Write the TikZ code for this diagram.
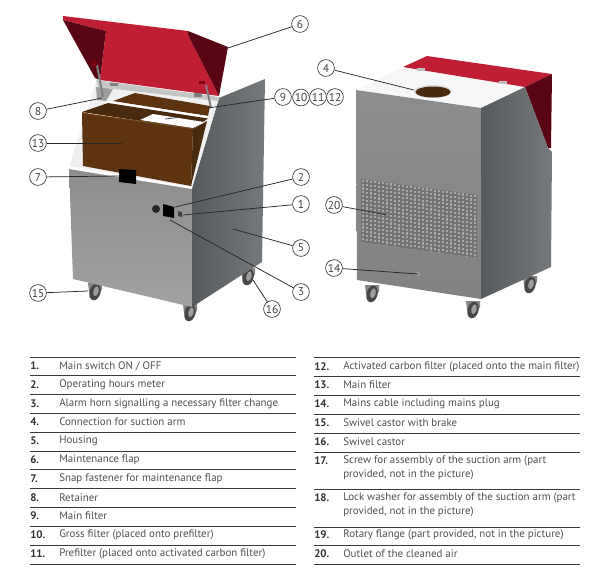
\documentclass[tikz,border=0pt]{standalone}
\usepackage{fontspec}
\setmainfont{PT Sans}
\definecolor{flapred}{HTML}{C01F33}
\definecolor{flapdark}{HTML}{5A0514}
\definecolor{brownA}{HTML}{5E3410}
\definecolor{brownB}{HTML}{4A2A0C}
\definecolor{brownC}{HTML}{6E4015}
\definecolor{faceG}{HTML}{989A9A}
\definecolor{sideG}{HTML}{5E6264}
\definecolor{rimG}{HTML}{C4C6C6}
\definecolor{txt}{HTML}{505050}
\definecolor{rulec}{HTML}{3A3A3A}
\tikzset{
  call/.style={circle,draw=black!80,line width=0.5pt,fill=white,minimum size=12.6pt,inner sep=0pt,font=\fontsize{8.6}{8.6}\selectfont,text=black!75},
  lead/.style={draw=black!85,line width=0.55pt},
  rowrule/.style={draw=rulec,line width=0.75pt},
  numt/.style={anchor=west,inner sep=0pt,font=\fontsize{8.2}{9}\selectfont\bfseries,text=black!80},
  item/.style={anchor=west,inner sep=0pt,font=\fontsize{8.2}{9}\selectfont,text=txt},
  wheelo/.style={fill=black!72},
  wheeli/.style={fill=black!38},
  fork/.style={fill=black!48}
}
\newcommand{\castor}[2]{%
  \fill[fork] (#1-7,#2-9) -- (#1+7,#2-9) -- (#1+7,#2-3) -- (#1+2,#2+6) -- (#1-6,#2) -- cycle;
  \fill[wheelo,rotate around={-15:(#1,#2)}] (#1,#2) ellipse (5.5 and 8.5);
  \fill[wheeli,rotate around={-15:(#1,#2)}] (#1+0.8,#2-1) ellipse (2.6 and 5);
}
\begin{document}
\begin{tikzpicture}[x=0.75pt,y=-0.75pt]
\useasboundingbox (0,0) rectangle (610,572);
\fill[white] (0,0) rectangle (610,572);

% ---------- left machine ----------
\castor{95}{292}
\castor{190}{313}
\castor{248}{277}
% flap
\fill[flapred] (63,16) -- (188,31) -- (188,35) -- (219,96) -- (100,80) -- (106,31) -- (63,20) -- cycle;
\fill[flapdark] (63,20) -- (106,31) -- (100,80) -- (95,78) -- cycle;
\fill[flapdark] (188,31) -- (228,47) -- (219,96) -- (188,35) -- cycle;
% housing side
\shade[left color=sideG!92!black,right color=sideG!85!white] (219,98) -- (265,79) -- (262,262) -- (192,307) -- (192,188) -- cycle;
% white rim
\fill[white!94!black] (69,167) -- (192,188) -- (219,98) -- (96,82) -- cycle;
\fill[rimG] (96,80) -- (219,97) -- (218,101) -- (98,87) -- cycle;
\fill[rimG!80!black] (96,87) -- (113,89) -- (106,101) -- (97,100) -- cycle;
% upper filter
\fill[brownA] (135,93) -- (210,106) -- (208,116) -- (113,101) -- cycle;
\fill[white] (106,100.5) -- (208,116) -- (208,118.5) -- (106,103) -- cycle;
% main filter
\fill[brownA] (82,113) -- (193,129) -- (191,186) -- (83,166) -- cycle;
\fill[brownB] (193,129) -- (207,121) -- (191,186) -- cycle;
\fill[brownB] (82,112) -- (108,103) -- (208,118.5) -- (193,129) -- cycle;
\fill[brownC] (82,112) -- (90,114) -- (193,128) -- (193,129) -- (82,113.5) -- cycle;
\fill[white] (140,120) -- (153,114) -- (204,122) -- (193,128) -- cycle;
\draw[black!70,line width=0.6pt] (165,119) -- (178,117.5);
% front
\shade[top color=faceG!92!black,bottom color=faceG!92!white] (69,167) -- (192,188) -- (192,307) -- (73,279) -- cycle;
\fill[white] (69,166) -- (192,187) -- (192,189) -- (69,169) -- cycle;
% hinges
\draw[black!50,line width=1.5pt] (97,65) -- (103,97);
\draw[black!50,line width=1.5pt] (206,85) -- (211,108);
\fill[flapdark!80!red] (92,61) rectangle (97,66);
\fill[flapdark!80!red] (199,81) rectangle (205,84);
\fill[black!50] (110,83) rectangle (118,86);
\fill[black!50] (194,93) rectangle (202,97);
% parts
\fill[black] (119,169) -- (136,170) -- (136,184) -- (119,182) -- cycle;
\fill[black!85] (156,209) circle (4);
\fill[black] (163,204) -- (174,207) -- (174,218) -- (163,216) -- cycle;
\fill[black!75] (178,211) -- (182,212) -- (182,217) -- (178,216) -- cycle;

% ---------- right machine ----------
\castor{372}{294}
\castor{473}{310}
\castor{530}{285}
\fill[white!97!black] (356,90) -- (403,67) -- (525,87) -- (481,108) -- cycle;
\fill[flapred] (403,67) -- (427,56) -- (552,74) -- (525,87) -- cycle;
\fill[flapdark] (525,87) -- (552,74) -- (551,148) -- (548,148) -- cycle;
\shade[top color=faceG!92!black,bottom color=faceG!85!black] (356,90) -- (481,108) -- (481,299) -- (357,280) -- cycle;
\shade[left color=sideG!92!black,right color=sideG!85!white] (481,108) -- (525,87) -- (548,148) -- (552,152) -- (551,267) -- (481,299) -- cycle;
\fill[black!25] (417,68) rectangle (425,71);
\fill[black!25] (499,81) rectangle (507,84);
% suction hole
\fill[white!85!black] (433,91.5) ellipse (19 and 6.5);
\fill[brownB] (433,92) ellipse (17.5 and 5.5);
% outlet grid
\begin{scope}
  \clip (361,179) -- (477,195) -- (477,258) -- (361,242) -- cycle;
  \fill[black!55] (361,179) -- (477,195) -- (477,258) -- (361,242) -- cycle;
  \foreach \i in {0,...,29} \foreach \j in {0,...,16} {
    \fill[faceG!85!white] ({361.6+\i*4},{179.6+\i*0.552+\j*3.9}) rectangle +(2.4,2.1);
  }
\end{scope}
\fill[white!80!black] (418,274) circle (1.8);
\fill[black!60] (418,274) circle (1);

% ---------- connector targets ----------
\coordinate (t1) at (183,215);
\coordinate (t2) at (175,207);
\coordinate (t3) at (170,220);
\coordinate (t4) at (414,90);
\coordinate (t5) at (233,229);
\coordinate (t6) at (228,48);
\coordinate (t7) at (119,176);
\coordinate (t8) at (102,98);
\coordinate (t9) at (208,108);
\coordinate (t13) at (122,143);
\coordinate (t14) at (418,274);
\coordinate (t15) at (88,291);
\coordinate (t16) at (253,280);
\coordinate (t20) at (387,215);

% ---------- callouts ----------
\node[call] (c1) at (301,204) {1};
\node[call] (c2) at (301,177) {2};
\node[call] (c3) at (301,292) {3};
\node[call] (c4) at (326,68) {4};
\node[call] (c5) at (301,248) {5};
\node[call] (c6) at (300,24) {6};
\node[call] (c7) at (38,177) {7};
\node[call] (c8) at (38,111) {8};
\node[call] (c9) at (283,97) {9};
\node[call] (c10) at (301,97.5) {10};
\node[call] (c11) at (318,97) {11};
\node[call] (c12) at (335,97) {12};
\node[call] (c13) at (38,143) {13};
\node[call] (c14) at (334,268) {14};
\node[call] (c15) at (38,293) {15};
\node[call] (c16) at (272,309) {16};
\node[call] (c20) at (334,205) {20};
\draw[lead] (c1) -- (t1);
\draw[lead] (c2) -- (t2);
\draw[lead] (c3) -- (t3);
\draw[lead] (c4) -- (t4);
\draw[lead] (c5) -- (t5);
\draw[lead] (c6) -- (t6);
\draw[lead] (c7) -- (t7);
\draw[lead] (c8) -- (t8);
\draw[lead] (c9) -- (t9);
\draw[lead] (c13) -- (t13);
\draw[lead] (c14) -- (t14);
\draw[lead] (c15) -- (t15);
\draw[lead] (c16) -- (t16);
\draw[lead] (c20) -- (t20);

% ---------- table rules ----------
\foreach \y in {357,375,394,413,432,451,469,488,507,526,545,564}
  \draw[rowrule] (30,\y) -- (296,\y);
\foreach \y in {357,376,395,414,433,452,489,527,545,564}
  \draw[rowrule] (314,\y) -- (580,\y);

% ---------- left table ----------
\node[numt] (n1) at (30,366) {1.};    \node[item] (i1) at (59,366) {Main switch ON / OFF};
\node[numt] (n2) at (30,385) {2.};    \node[item] (i2) at (59,385) {Operating hours meter};
\node[numt] (n3) at (30,403.5) {3.};  \node[item] (i3) at (59,403.5) {Alarm horn signalling a necessary filter change};
\node[numt] (n4) at (30,422) {4.};    \node[item] (i4) at (59,422) {Connection for suction arm};
\node[numt] (n5) at (30,441) {5.};    \node[item] (i5) at (59,441) {Housing};
\node[numt] (n6) at (30,460) {6.};    \node[item] (i6) at (59,460) {Maintenance flap};
\node[numt] (n7) at (30,479) {7.};    \node[item] (i7) at (59,479) {Snap fastener for maintenance flap};
\node[numt] (n8) at (30,497.5) {8.};  \node[item] (i8) at (59,497.5) {Retainer};
\node[numt] (n9) at (30,516) {9.};    \node[item] (i9) at (59,516) {Main filter};
\node[numt] (n10) at (30,535) {10.};  \node[item] (i10) at (59,535) {Gross filter (placed onto prefilter)};
\node[numt] (n11) at (30,554) {11.};  \node[item] (i11) at (59,554) {Prefilter (placed onto activated carbon filter)};

% ---------- right table ----------
\node[numt] (n12) at (314,367) {12.}; \node[item] (i12) at (343,367) {Activated carbon filter (placed onto the main filter)};
\node[numt] (n13) at (314,385) {13.}; \node[item] (i13) at (343,385) {Main filter};
\node[numt] (n14) at (314,404) {14.}; \node[item] (i14) at (343,404) {Mains cable including mains plug};
\node[numt] (n15) at (314,423) {15.}; \node[item] (i15) at (343,423) {Swivel castor with brake};
\node[numt] (n16) at (314,442) {16.}; \node[item] (i16) at (343,442) {Swivel castor};
\node[numt] (n17) at (314,461) {17.}; \node[item] (i17) at (343,461) {Screw for assembly of the suction arm (part};
\node[item] (i17b) at (343,475) {provided, not in the picture)};
\node[numt] (n18) at (314,498) {18.}; \node[item] (i18) at (343,498) {Lock washer for assembly of the suction arm (part};
\node[item] (i18b) at (343,512) {provided, not in the picture)};
\node[numt] (n19) at (314,535) {19.}; \node[item] (i19) at (343,535) {Rotary flange (part provided, not in the picture)};
\node[numt] (n20) at (314,554) {20.}; \node[item] (i20) at (343,554) {Outlet of the cleaned air};
\end{tikzpicture}
\end{document}
